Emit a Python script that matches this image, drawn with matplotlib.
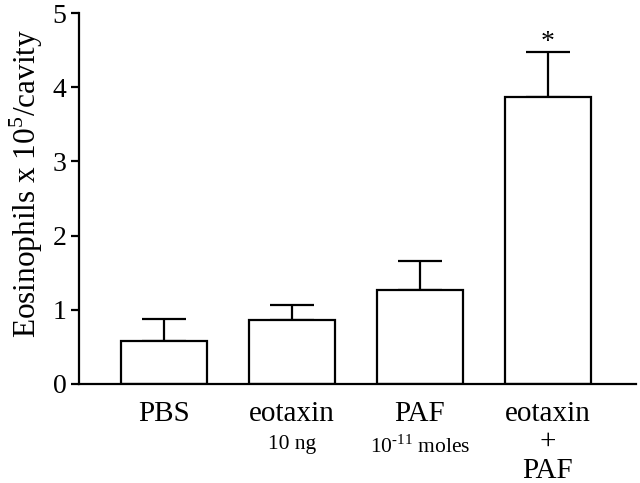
import matplotlib
matplotlib.use("Agg")
import matplotlib.pyplot as plt
from matplotlib.transforms import blended_transform_factory

categories = ["PBS", "eotaxin", "PAF", "eotaxin"]
sublabels = ["", "10 ng", "10$^{\\mathregular{\u2010}11}$ moles", ""]
extra_lines = ["", "", "", "+|PAF"]
means = [0.58, 0.86, 1.27, 3.87]
errors = [0.30, 0.20, 0.39, 0.60]
sig = ["", "", "", "*"]
yticks = [0, 1, 2, 3, 4, 5]

plt.rcParams['font.family'] = ['Liberation Serif', 'DejaVu Serif']
plt.rcParams['mathtext.fontset'] = 'custom'
plt.rcParams['mathtext.rm'] = 'Liberation Serif'

fig = plt.figure(figsize=(6.4, 4.83), dpi=100)
ax = fig.add_axes([0.1234, 0.205, 0.8706, 0.768])

x = list(range(len(categories)))
ax.bar(x, means, width=0.67, color="white", edgecolor="black", linewidth=1.6, zorder=2)
ax.errorbar(x, means, yerr=[[0]*len(errors), errors], fmt="none", ecolor="black",
            elinewidth=1.6, capsize=16, capthick=1.6, zorder=1)
for xi, m, e, s in zip(x, means, errors, sig):
    if s:
        ax.text(xi, m + e - 0.03, s, ha="center", va="bottom", fontsize=20)

ax.set_xlim(-0.664, 3.69)
ax.set_ylim(0, 5)
ax.set_yticks(yticks)
ax.set_yticklabels([str(t) for t in yticks], fontsize=20)
ax.set_xticks([])
ax.spines["top"].set_visible(False)
ax.spines["right"].set_visible(False)
ax.spines["left"].set_linewidth(1.6)
ax.spines["bottom"].set_linewidth(1.6)
ax.tick_params(axis="y", direction="out", length=6, width=1.6, pad=3)
ax.set_ylabel(r"Eosinophils x 10$^{\mathregular{5}}$/cavity", fontsize=22.5)
ax.yaxis.set_label_coords(-0.061, 0.54)

trans = blended_transform_factory(ax.transData, ax.transAxes)
for xi, c, sub, extra in zip(x, categories, sublabels, extra_lines):
    ax.text(xi, -0.046, c, transform=trans, ha="center", va="top", fontsize=21)
    if sub:
        ax.text(xi, -0.138, sub, transform=trans, ha="center", va="top", fontsize=15.5)
    if extra:
        plus, second = extra.split("|")
        ax.text(xi, -0.122, plus, transform=trans, ha="center", va="top", fontsize=21)
        ax.text(xi, -0.199, second, transform=trans, ha="center", va="top", fontsize=21)

fig.savefig("out.png", dpi=100)
